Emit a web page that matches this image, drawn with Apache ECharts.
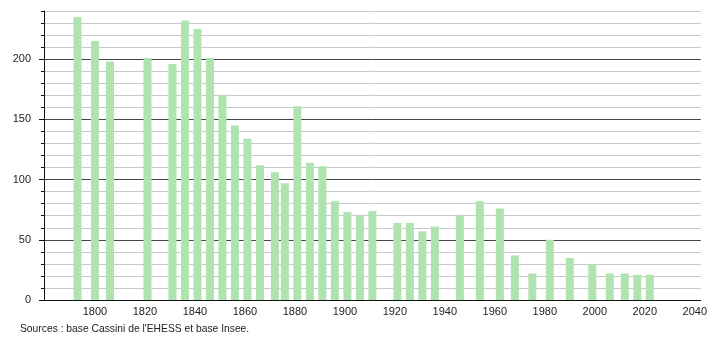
<!DOCTYPE html>
<html>
<head>
<meta charset="utf-8">
<script src="https://cdn.jsdelivr.net/npm/echarts@6/dist/echarts.min.js"></script>
<style>
html,body{margin:0;padding:0;background:#fff;}
#c{width:710px;height:340px;}
</style>
</head>
<body>
<div id="c"></div>
<script>
const years = [1793,1800,1806,1821,1831,1836,1841,1846,1851,1856,1861,1866,1872,1876,1881,1886,1891,1896,1901,1906,1911,1921,1926,1931,1936,1946,1954,1962,1968,1975,1982,1990,1999,2006,2012,2017,2022];
const population = [235,215,198,201,196,232,225,201,170,145,134,112,106,97,161,114,111,82,73,70,74,64,64,57,61,70,82,76,37,22,50,35,30,22,22,21,21];
const xTicks = [1800,1820,1840,1860,1880,1900,1920,1940,1960,1980,2000,2020,2040];
const yLabels = [0,50,100,150,200];
const sourceText = "Sources : base Cassini de l'EHESS et base Insee.";

const font = 'Liberation Sans, Arial, sans-serif';
const chart = echarts.init(document.getElementById('c'), null, {renderer: 'canvas'});
chart.setOption({
  animation: false,
  backgroundColor: '#fff',
  grid: {left: 44, right: 9, top: 11, bottom: 40, containLabel: false},
  xAxis: {
    type: 'value', min: 1779.6, max: 2042.4,
    axisLine: {show: true, lineStyle: {color: '#111', width: 1}},
    axisTick: {show: false},
    splitLine: {show: false},
    axisLabel: {customValues: xTicks, color: '#222', fontSize: 11, fontFamily: font, margin: 6,
      formatter: v => String(v)}
  },
  yAxis: [{
    type: 'value', min: 0, max: 240, interval: 10,
    axisLine: {show: true, lineStyle: {color: '#111', width: 1}},
    axisTick: {show: true, length: 3, lineStyle: {color: '#111'}},
    axisLabel: {color: '#222', fontSize: 11, fontFamily: font, margin: 13,
      formatter: v => (yLabels.indexOf(v) >= 0 ? String(v) : '')},
    splitLine: {show: true, lineStyle: {color: ['#444', '#c8c8c8', '#c8c8c8', '#c8c8c8', '#c8c8c8'], width: 1}}
  }, {
    type: 'value', min: 0, max: 240, position: 'left',
    axisLine: {show: false},
    axisTick: {show: true, length: 5, customValues: yLabels, lineStyle: {color: '#111'}},
    axisLabel: {show: false},
    splitLine: {show: false}
  }],
  series: [{
    type: 'bar',
    yAxisIndex: 0,
    barWidth: 8,
    itemStyle: {color: '#afe3af'},
    data: years.map((y, i) => [y, population[i]])
  }],
  graphic: [{
    type: 'text', left: 20, top: 324,
    style: {text: sourceText, fill: '#222', font: '10.3px ' + font}
  }]
});
</script>
</body>
</html>
